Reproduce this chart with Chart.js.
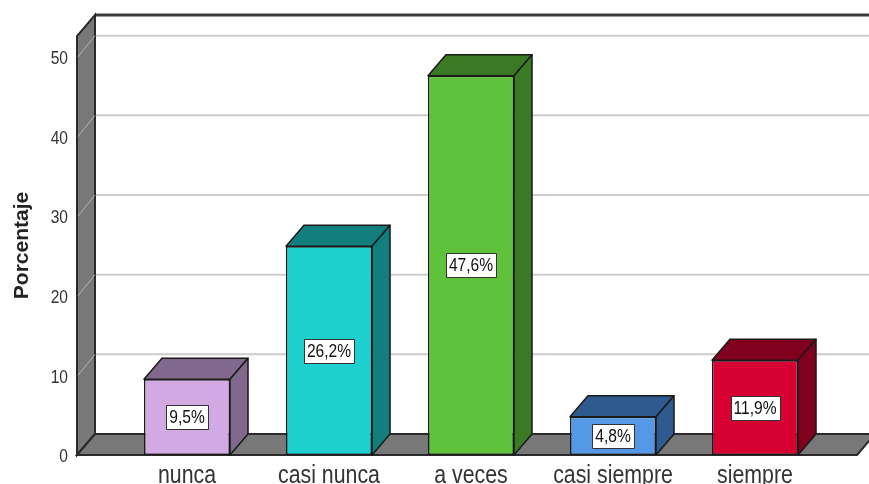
<!DOCTYPE html>
<html>
<head>
<meta charset="utf-8">
<script src="https://cdn.jsdelivr.net/npm/chart.js@4"></script>
<style>
    html, body { margin: 0; padding: 0; background: #fff; }
</style>
</head>
<body>
<canvas id="chart" width="869" height="484"></canvas>
<script>
const categories = ["nunca", "casi nunca", "a veces", "casi siempre", "siempre"];
const percentages = [9.5, 26.2, 47.6, 4.8, 11.9];
const yTicks = [0, 10, 20, 30, 40, 50];
const frontColors = ["#d3a9e3", "#1ecfcf", "#5ec23b", "#5599e6", "#d60032"];
const darkColors = ["#80698d", "#137e7e", "#3b7a25", "#2f5a8f", "#80001e"];

const DX = 18, DY = -21;

// text in a narrow face: the regular sans squeezed sideways
function narrowText(ctx, txt, x, y, size, align, baseline, color) {
    ctx.save();
    ctx.translate(x, y);
    ctx.scale(0.82, 1);
    ctx.font = size + 'px "Liberation Sans", Arial, sans-serif';
    ctx.textAlign = align;
    ctx.textBaseline = baseline;
    ctx.fillStyle = color;
    ctx.fillText(txt, 0, 0);
    ctx.restore();
}

// draws the 3D walls, floor, bar sides, value boxes and tick labels
const scene3d = {
    id: "scene3d",
    beforeDatasetsDraw(chart) {
        const { ctx, chartArea: a, scales: { y } } = chart;
        const wallX = a.left - 39;
        const floorRight = a.right + 31;
        ctx.save();

        // grid on the back wall
        ctx.strokeStyle = "#cdcdcd";
        ctx.lineWidth = 2;
        yTicks.forEach(v => {
            const py = y.getPixelForValue(v) + DY;
            ctx.beginPath();
            ctx.moveTo(wallX + DX, py);
            ctx.lineTo(chart.width, py);
            ctx.stroke();
        });

        ctx.strokeStyle = "#3a3a3a";
        ctx.lineWidth = 3;
        ctx.beginPath();
        ctx.moveTo(wallX + DX, a.top + DY);
        ctx.lineTo(chart.width, a.top + DY);
        ctx.stroke();

        // left wall
        ctx.fillStyle = "#787878";
        ctx.strokeStyle = "#2a2a2a";
        ctx.lineWidth = 2;
        ctx.beginPath();
        ctx.moveTo(wallX, a.bottom);
        ctx.lineTo(wallX, a.top);
        ctx.lineTo(wallX + DX, a.top + DY);
        ctx.lineTo(wallX + DX, a.bottom + DY);
        ctx.closePath();
        ctx.fill();
        ctx.stroke();

        ctx.strokeStyle = "#b4b4b4";
        ctx.lineWidth = 1;
        yTicks.forEach(v => {
            const py = y.getPixelForValue(v);
            ctx.beginPath();
            ctx.moveTo(wallX + 1, py);
            ctx.lineTo(wallX + DX, py + DY);
            ctx.stroke();
        });

        // floor
        ctx.fillStyle = "#787878";
        ctx.strokeStyle = "#2a2a2a";
        ctx.lineWidth = 2;
        ctx.beginPath();
        ctx.moveTo(wallX, a.bottom);
        ctx.lineTo(wallX + DX, a.bottom + DY);
        ctx.lineTo(floorRight + DX, a.bottom + DY);
        ctx.lineTo(floorRight, a.bottom);
        ctx.closePath();
        ctx.fill();
        ctx.stroke();

        // tick labels
        yTicks.forEach(v => {
            narrowText(ctx, String(v), wallX - 9, y.getPixelForValue(v) + 2, 19, "right", "middle", "#333");
        });
        const x = chart.scales.x;
        categories.forEach((c, i) => {
            narrowText(ctx, c, x.getPixelForValue(i), a.bottom + 28, 26, "center", "alphabetic", "#333");
        });
        ctx.restore();
    },
    afterDatasetsDraw(chart) {
        const { ctx } = chart;
        const meta = chart.getDatasetMeta(0);
        ctx.save();
        meta.data.forEach((bar, i) => {
            const { x, y, base, width } = bar.getProps(["x", "y", "base", "width"], true);
            const l = x - width / 2, r = x + width / 2;
            ctx.fillStyle = darkColors[i];
            ctx.strokeStyle = "#1a1a1a";
            ctx.lineWidth = 1.5;
            ctx.lineJoin = "round";
            // top face
            ctx.beginPath();
            ctx.moveTo(l, y);
            ctx.lineTo(l + DX, y + DY);
            ctx.lineTo(r + DX, y + DY);
            ctx.lineTo(r, y);
            ctx.closePath();
            ctx.fill();
            ctx.stroke();
            // side face
            ctx.beginPath();
            ctx.moveTo(r, y);
            ctx.lineTo(r + DX, y + DY);
            ctx.lineTo(r + DX, base + DY);
            ctx.lineTo(r, base);
            ctx.closePath();
            ctx.fill();
            ctx.stroke();

            // value box
            const txt = percentages[i].toFixed(1).replace(".", ",") + "%";
            ctx.font = '19px "Liberation Sans", Arial, sans-serif';
            const tw = ctx.measureText(txt).width * 0.82;
            const bw = Math.round(tw + 6), bh = 24;
            const cy = Math.round((y + base) / 2);
            const bx = Math.round(x - bw / 2) + 0.5, by = Math.round(cy - bh / 2) + 0.5;
            ctx.fillStyle = "#fff";
            ctx.fillRect(bx, by, bw, bh);
            ctx.strokeStyle = "#333";
            ctx.lineWidth = 1;
            ctx.strokeRect(bx, by, bw, bh);
            narrowText(ctx, txt, x, cy + 1, 19, "center", "middle", "#111");
        });
        ctx.restore();
    }
};

new Chart(document.getElementById("chart"), {
    type: "bar",
    data: {
        labels: categories,
        datasets: [{
            data: percentages,
            backgroundColor: frontColors,
            borderColor: "#1a1a1a",
            borderWidth: 1.5,
            borderSkipped: false,
            categoryPercentage: 1,
            barPercentage: 0.606
        }]
    },
    options: {
        responsive: false,
        animation: false,
        layout: { padding: { top: 36, right: 43, left: 0, bottom: 0 } },
        plugins: { legend: { display: false }, tooltip: { enabled: false } },
        scales: {
            x: {
                grid: { display: false, drawTicks: false },
                border: { display: false },
                ticks: { display: false },
                afterFit: s => { s.height = 29; }
            },
            y: {
                min: 0,
                max: 52.6,
                grid: { display: false, drawTicks: false },
                border: { display: false },
                afterBuildTicks: s => { s.ticks = yTicks.map(v => ({ value: v })); },
                afterFit: s => { s.width = 116; },
                ticks: { display: false },
                title: {
                    display: true,
                    text: "Porcentaje",
                    color: "#222",
                    padding: { top: 10, bottom: 0 },
                    font: { family: '"Liberation Sans", Arial, sans-serif', size: 21, weight: "bold" }
                }
            }
        }
    },
    plugins: [scene3d]
});
</script>
</body>
</html>
